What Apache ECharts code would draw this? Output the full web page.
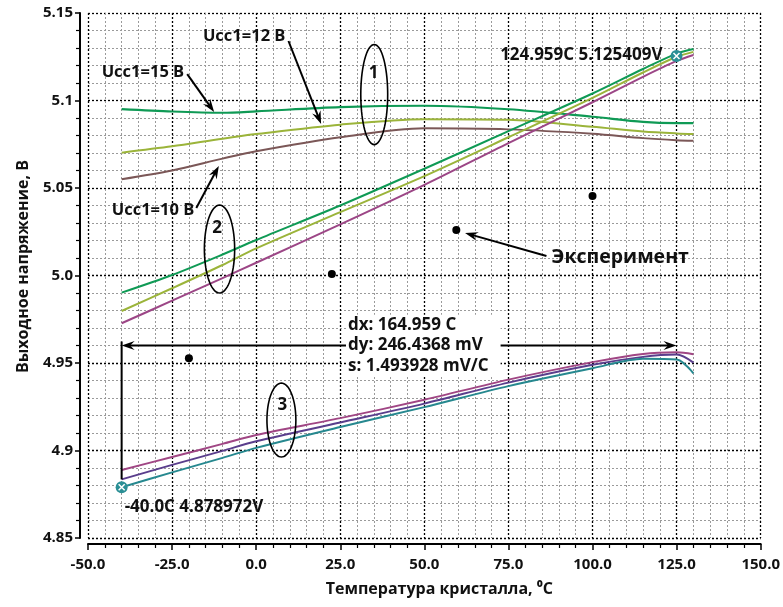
<!DOCTYPE html>
<html>
<head>
<meta charset="utf-8">
<script src="https://cdn.jsdelivr.net/npm/echarts@6/dist/echarts.min.js"></script>
<style>
html, body { margin: 0; padding: 0; background: #fff; }
#main { width: 783px; height: 607px; }
</style>
</head>
<body>
<div id="main"></div>
<script>
// temperature points (°C) shared by all simulated curves
var temp = [-40, -25, -10, 0, 25, 50, 75, 100, 115, 125, 130];

// group 1 - flat curves, Ucc1 = 15 / 12 / 10 V
var g1_15 = [5.0951, 5.0937, 5.0930, 5.0938, 5.0962, 5.0970, 5.0950, 5.0907, 5.0878, 5.0871, 5.0871];
var g1_12 = [5.0702, 5.0738, 5.0782, 5.0808, 5.0862, 5.0893, 5.0890, 5.0850, 5.0823, 5.0812, 5.0809];
var g1_10 = [5.0550, 5.0600, 5.0668, 5.0710, 5.0790, 5.0841, 5.0835, 5.0810, 5.0785, 5.0773, 5.0770];
// group 2 - rising curves
var g2_15 = [4.9902, 5.0003, 5.0120, 5.0203, 5.0400, 5.0610, 5.0825, 5.1040, 5.1180, 5.1268, 5.1294];
var g2_12 = [4.9797, 4.9927, 5.0060, 5.0155, 5.0362, 5.0568, 5.0790, 5.1015, 5.1160, 5.1250, 5.1278];
var g2_10 = [4.9727, 4.9856, 4.9985, 5.0073, 5.0292, 5.0518, 5.0757, 5.0990, 5.1135, 5.1226, 5.1260];
// group 3 - lower curves
var g3_a = [4.8889, 4.8963, 4.9038, 4.9089, 4.9185, 4.9290, 4.9405, 4.9505, 4.9552, 4.9561, 4.9550];
var g3_b = [4.8835, 4.8918, 4.8998, 4.9053, 4.9160, 4.9268, 4.9388, 4.9490, 4.9535, 4.9548, 4.9502];
var g3_c = [4.8790, 4.8875, 4.8958, 4.9015, 4.9134, 4.9248, 4.9368, 4.9470, 4.9525, 4.9520, 4.9441];

// experiment points
var expT = [-20, 22.5, 59.5, 100];
var expU = [4.9527, 5.0009, 5.0260, 5.0454];

// cursors
var cursorT = [-40.0, 124.959];
var cursorU = [4.878972, 5.125409];
var cursorText = ['dx: 164.959 C', 'dy: 246.4368 mV', 's: 1.493928 mV/C'];

var xTickLabels = ['-50.0', '-25.0', '0.0', '25.0', '50.0', '75.0', '100.0', '125.0', '150.0'];
var yTickLabels = ['4.85', '4.9', '4.95', '5.0', '5.05', '5.1', '5.15'];

var FONT = "'Open Sans', sans-serif";

function curve(vals, color, width) {
    return {
        type: 'line',
        data: temp.map(function (t, i) { return [t, vals[i]]; }),
        smooth: 0.3,
        showSymbol: false,
        silent: true,
        lineStyle: { color: color, width: width || 2 }
    };
}

var myChart = echarts.init(document.getElementById('main'));
var option = {
    backgroundColor: '#fff',
    animation: false,
    grid: { left: 88, right: 17, top: 13, bottom: 69 },
    xAxis: {
        type: 'value',
        min: -50, max: 150, interval: 25,
        offset: 6,
        name: 'Температура кристалла, ⁰C',
        nameLocation: 'middle',
        nameGap: 37,
        nameTextStyle: { fontFamily: FONT, fontWeight: 'bold', fontSize: 16, color: '#111', padding: [0, 0, 0, 30] },
        axisLine: { onZero: false, lineStyle: { color: '#000', width: 2 } },
        axisTick: { length: 6, lineStyle: { color: '#000', width: 1.5 } },
        minorTick: { show: true, splitNumber: 5, length: 4, lineStyle: { color: '#000', width: 1.2 } },
        axisLabel: {
            margin: 13, fontFamily: FONT, fontWeight: 'bold', fontSize: 15, color: '#111',
            formatter: function (v) { return xTickLabels[Math.round((v + 50) / 25)]; }
        },
        splitLine: { show: true, lineStyle: { color: '#000', type: [2, 2], width: 1.3 } },
        minorSplitLine: { show: true, lineStyle: { color: '#9a9a9a', type: [2, 2], width: 1 } }
    },
    yAxis: {
        type: 'value',
        min: 4.85, max: 5.15, interval: 0.05,
        offset: 8,
        name: 'Выходное напряжение, В',
        nameLocation: 'middle',
        nameGap: 49,
        nameTextStyle: { fontFamily: FONT, fontWeight: 'bold', fontSize: 16, color: '#111', padding: [0, 0, 0, 18] },
        axisLine: { show: true, onZero: false, lineStyle: { color: '#000', width: 2 } },
        axisTick: { show: true, length: 5, lineStyle: { color: '#000', width: 1.5 } },
        minorTick: { show: true, splitNumber: 5, length: 4, lineStyle: { color: '#000', width: 1.2 } },
        axisLabel: {
            margin: 7, fontFamily: FONT, fontWeight: 'bold', fontSize: 15, color: '#111',
            formatter: function (v) { return yTickLabels[Math.round((v - 4.85) / 0.05)]; }
        },
        splitLine: { show: true, lineStyle: { color: '#000', type: [2, 2], width: 1.3 } },
        minorSplitLine: { show: true, lineStyle: { color: '#9a9a9a', type: [2, 2], width: 1 } }
    },
    series: [
        curve(g1_15, '#0f9a55', 2.2),
        curve(g1_12, '#9bb43a', 2),
        curve(g1_10, '#7b5757', 2),
        curve(g2_15, '#0f9a55', 2),
        curve(g2_12, '#9bb43a', 2),
        curve(g2_10, '#9c4686', 2),
        curve(g3_a, '#a04684', 2),
        curve(g3_b, '#5a3e8c', 2),
        curve(g3_c, '#26888f', 2),
        {
            type: 'scatter',
            data: expT.map(function (t, i) { return [t, expU[i]]; }),
            symbolSize: 8,
            itemStyle: { color: '#000', opacity: 1 },
            silent: true
        },
        {
            type: 'scatter',
            data: cursorT.map(function (t, i) { return [t, cursorU[i]]; }),
            symbol: 'circle',
            symbolSize: 12,
            itemStyle: { color: '#2a8f95', opacity: 1 },
            z: 5,
            silent: true,
            label: {
                show: true,
                fontFamily: FONT, fontWeight: 'bold', fontSize: 17, color: '#111',
                formatter: function (p) {
                    var t = p.value[0];
                    var ts = Number.isInteger(t) ? t.toFixed(1) : String(t);
                    return ts + 'C ' + p.value[1] + 'V';
                }
            },
            labelLayout: function (params) {
                if (params.dataIndex === 0) {
                    return { x: params.rect.x + 9, y: params.rect.y + 26, align: 'left', verticalAlign: 'middle' };
                }
                return { x: params.rect.x - 8, y: params.rect.y + 5, align: 'right', verticalAlign: 'middle' };
            }
        },
        {
            type: 'scatter',
            data: cursorT.map(function (t, i) { return [t, cursorU[i]]; }),
            symbol: 'path://M0,0L10,10M10,0L0,10',
            symbolSize: 6,
            itemStyle: { color: 'none', borderColor: '#fff', borderWidth: 1.5, opacity: 1 },
            z: 6,
            silent: true
        }
    ]
};
myChart.setOption(option);

function px(x, y) { return myChart.convertToPixel({ gridIndex: 0 }, [x, y]); }

function arrowEls(a, b, both) {
    var els = [];
    var p0 = px(a[0], a[1]), p1 = px(b[0], b[1]);
    var dx = p1[0] - p0[0], dy = p1[1] - p0[1];
    var len = Math.sqrt(dx * dx + dy * dy);
    var ux = dx / len, uy = dy / len, nx = -uy, ny = ux;
    var L = 13, W = 4.5;
    function head(tip, sx, sy) {
        return {
            type: 'polygon',
            shape: { points: [
                tip,
                [tip[0] - sx * L + nx * W, tip[1] - sy * L + ny * W],
                [tip[0] - sx * L * 0.65, tip[1] - sy * L * 0.65],
                [tip[0] - sx * L - nx * W, tip[1] - sy * L - ny * W]
            ] },
            style: { fill: '#000' }, z: 20
        };
    }
    var s = both ? [p0[0] + ux * L * 0.6, p0[1] + uy * L * 0.6] : p0;
    var e = [p1[0] - ux * L * 0.6, p1[1] - uy * L * 0.6];
    els.push({ type: 'line', shape: { x1: s[0], y1: s[1], x2: e[0], y2: e[1] }, style: { stroke: '#000', lineWidth: 2 }, z: 20 });
    els.push(head(p1, ux, uy));
    if (both) els.push(head(p0, -ux, -uy));
    return els;
}

function ellipseEl(cx, cy, rx, ry) {
    var c = px(cx, cy);
    var rpx = Math.abs(px(cx + rx, cy)[0] - c[0]);
    var rpy = Math.abs(px(cx, cy + ry)[1] - c[1]);
    var pts = [];
    for (var i = 0; i < 72; i++) {
        var a = i / 72 * Math.PI * 2;
        pts.push([c[0] + rpx * Math.cos(a), c[1] + rpy * Math.sin(a)]);
    }
    return { type: 'polygon', shape: { points: pts }, style: { fill: 'none', stroke: '#000', lineWidth: 1.6 }, z: 20 };
}

function textEl(x, y, txt, align, size, extra) {
    var p = px(x, y);
    var st = { text: txt, x: p[0], y: p[1], align: align, verticalAlign: 'middle', fontFamily: FONT, fontWeight: 'bold', fontSize: size, fill: '#111' };
    if (extra) for (var k in extra) st[k] = extra[k];
    return { type: 'text', style: st, z: 21 };
}

var g = [];
g = g.concat(arrowEls([-20.5, 5.1151], [-12.5, 5.0934]));
g = g.concat(arrowEls([9.6, 5.1340], [19.3, 5.0866]));
g = g.concat(arrowEls([-17.8, 5.0386], [-11.1, 5.0626]));
g = g.concat(arrowEls([86.3, 5.0111], [62.1, 5.0243]));
g.push(textEl(-21.4, 5.1163, 'Ucc1=15 В', 'right', 16.5));
g.push(textEl(8.7, 5.1369, 'Ucc1=12 В', 'right', 16.5));
g.push(textEl(-18.4, 5.0374, 'Ucc1=10 В', 'right', 16.5));
g.push(textEl(87.8, 5.0106, 'Эксперимент', 'left', 19.5));

g.push(ellipseEl(35.1, 5.1034, 4.0, 0.0286));
g.push(ellipseEl(-10.9, 5.0151, 4.5, 0.0251));
g.push(ellipseEl(7.5, 4.9174, 4.3, 0.0211));
g.push(textEl(34.9, 5.1154, '1', 'center', 17));
g.push(textEl(-11.6, 5.0269, '2', 'center', 17));
g.push(textEl(7.8, 4.9260, '3', 'center', 17));

// cursor measurement
var v0 = px(cursorT[0], 4.9623), v1 = px(cursorT[0], 4.8835);
g.push({ type: 'line', shape: { x1: v0[0], y1: v0[1], x2: v1[0], y2: v1[1] }, style: { stroke: '#000', lineWidth: 2 }, z: 19 });
g = g.concat(arrowEls([cursorT[0], 4.96], [cursorT[1], 4.96], true));
g.push(textEl(26.7, 4.96, cursorText.join('\n'), 'left', 17,
    { lineHeight: 20.5, backgroundColor: '#fff', padding: [0, 12, 0, 2] }));

myChart.setOption({ graphic: { elements: g } });
</script>
</body>
</html>
